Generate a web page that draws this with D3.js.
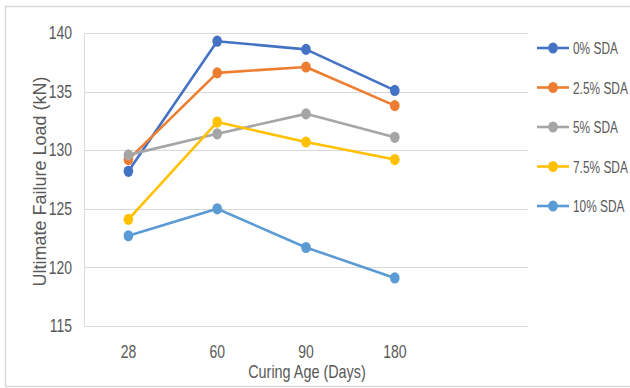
<!DOCTYPE html>
<html>
<head>
<meta charset="utf-8">
<script src="https://cdn.jsdelivr.net/npm/d3@7"></script>
<style>
  html, body { margin: 0; padding: 0; background: #fff; }
  svg { display: block; }
  text { font-family: "Liberation Sans", Arial, sans-serif; }
</style>
</head>
<body>
<svg id="chart" width="630" height="388"></svg>
<script>
// Curing ages (days) on the x axis
const categories = ["28", "60", "90", "180"];
// Series names, as shown in the legend
const seriesNames = ["0% SDA", "2.5% SDA", "5% SDA", "7.5% SDA", "10% SDA"];
// Ultimate failure load (kN) per series, one value per curing age
const sda0   = [128.2, 139.3, 138.6, 135.1];
const sda25  = [129.2, 136.6, 137.1, 133.8];
const sda5   = [129.6, 131.4, 133.1, 131.1];
const sda75  = [124.1, 132.4, 130.7, 129.2];
const sda10  = [122.7, 125.0, 121.7, 119.1];
const yTicks = [115, 120, 125, 130, 135, 140];
const colors = ["#4472C4", "#ED7D31", "#A5A5A5", "#FFC000", "#5B9BD5"];

const seriesValues = [sda0, sda25, sda5, sda75, sda10];
const series = seriesNames.map((name, i) => ({ name, values: seriesValues[i], color: colors[i] }));

const svg = d3.select("#chart");
const plot = { left: 84, right: 528, top: 33, bottom: 326 };

// Squeeze text horizontally (about its own origin) to get a condensed face
function condense(sel, k) {
  sel.each(function () {
    const t = d3.select(this);
    const x0 = +(t.attr("x") || 0);
    t.attr("x", x0 / k).attr("transform", `scale(${k},1)`);
  });
}

// Chart frame
svg.append("rect")
  .attr("x", 5.5).attr("y", 6.5)
  .attr("width", 640).attr("height", 380)
  .attr("fill", "#fff").attr("stroke", "#d9d9d9").attr("stroke-width", 1.5);

// Five equal slots across the plot; the categories sit in the first four
const band = d3.scaleBand()
  .domain(categories.concat(["_"]))
  .range([plot.left, plot.right]);
const x = d => band(d) + band.bandwidth() / 2;

const y = d3.scaleLinear().domain([115, 140]).range([plot.bottom, plot.top]);

// Horizontal gridlines
svg.append("g")
  .selectAll("line")
  .data(yTicks)
  .join("line")
  .attr("x1", plot.left).attr("x2", plot.right)
  .attr("y1", d => Math.round(y(d)) + 0.5).attr("y2", d => Math.round(y(d)) + 0.5)
  .attr("stroke", "#d9d9d9").attr("stroke-width", 1);

// Left axis line
svg.append("line")
  .attr("x1", plot.left + 0.5).attr("x2", plot.left + 0.5)
  .attr("y1", plot.top).attr("y2", plot.bottom + 0.5)
  .attr("stroke", "#d9d9d9");

// Y tick labels
const yAxis = d3.axisLeft(y).tickValues(yTicks).tickSize(0).tickPadding(12);
const gy = svg.append("g").attr("transform", `translate(${plot.left},0)`).call(yAxis);
gy.select(".domain").remove();
gy.attr("font-family", null);
gy.selectAll("text")
  .attr("font-size", 17.5)
  .attr("fill", "#595959")
  .call(condense, 0.8);

// X tick labels
const xAxis = d3.axisBottom(band).tickValues(categories).tickSize(0).tickPadding(20);
const gx = svg.append("g").attr("transform", `translate(0,${plot.bottom})`).call(xAxis);
gx.select(".domain").remove();
gx.attr("font-family", null);
gx.selectAll("text")
  .attr("font-size", 17.5)
  .attr("fill", "#595959")
  .call(condense, 0.8);

// Axis titles
svg.append("g")
  .attr("transform", "translate(307,378)")
  .append("text")
  .attr("text-anchor", "middle")
  .attr("font-size", 18)
  .attr("fill", "#595959")
  .text("Curing Age (Days)")
  .call(condense, 0.8);

svg.append("text")
  .attr("transform", `translate(40,${(plot.top + plot.bottom) / 2 + 2}) rotate(-90)`)
  .attr("text-anchor", "middle")
  .attr("dy", "0.35em")
  .attr("font-size", 18)
  .attr("fill", "#595959")
  .text("Ultimate Failure Load (kN)");

// Series lines and markers
const line = d3.line()
  .x((d, i) => x(categories[i]))
  .y(d => y(d));

const gs = svg.append("g")
  .selectAll("g")
  .data(series)
  .join("g");

gs.append("path")
  .attr("d", d => line(d.values))
  .attr("fill", "none")
  .attr("stroke", d => d.color)
  .attr("stroke-width", 2.6)
  .attr("stroke-linejoin", "round");

gs.selectAll("ellipse")
  .data(d => d.values.map((v, i) => ({ v, i, color: d.color })))
  .join("ellipse")
  .attr("cx", d => x(categories[d.i]))
  .attr("cy", d => y(d.v))
  .attr("rx", 4.8).attr("ry", 5.6)
  .attr("fill", d => d.color);

// Legend
const legend = svg.append("g")
  .selectAll("g")
  .data(series)
  .join("g")
  .attr("transform", (d, i) => `translate(537,${48 + i * 39.5})`);

legend.append("line")
  .attr("x1", 0).attr("x2", 32)
  .attr("stroke", d => d.color).attr("stroke-width", 2.6);
legend.append("ellipse")
  .attr("cx", 16).attr("rx", 4.8).attr("ry", 5.6)
  .attr("fill", d => d.color);
legend.append("text")
  .attr("x", 36).attr("dy", "0.36em")
  .attr("font-size", 17)
  .attr("fill", "#595959")
  .text(d => d.name)
  .call(condense, 0.7);
</script>
</body>
</html>
